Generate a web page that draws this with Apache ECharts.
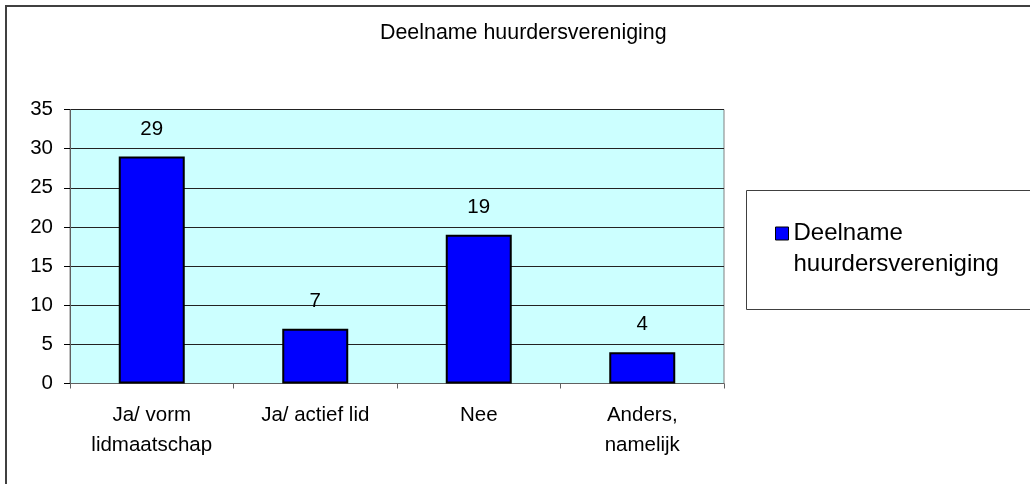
<!DOCTYPE html>
<html>
<head>
<meta charset="utf-8">
<script src="https://cdn.jsdelivr.net/npm/echarts@6/dist/echarts.min.js"></script>
<style>
  html, body { margin: 0; padding: 0; background: #fff; }
  #chart { width: 1030px; height: 484px; }
</style>
</head>
<body>
<div id="chart"></div>
<script>
// categorieen en waarden
var categories = ['Ja/ vorm\nlidmaatschap', 'Ja/ actief lid', 'Nee', 'Anders,\nnamelijk'];
var values = [29, 7, 19, 4];
var seriesName = 'Deelname\nhuurdersvereniging';
var titleText = 'Deelname huurdersvereniging';

var font = 'Liberation Sans, Arial, sans-serif';
var myChart = echarts.init(document.getElementById('chart'));

myChart.setOption({
  backgroundColor: '#fff',
  animation: false,
  title: {
    text: titleText,
    left: 380,
    top: 23,
    padding: 0,
    textStyle: { fontFamily: font, fontSize: 21.4, fontWeight: 'normal', color: '#000' }
  },
  graphic: [
    { // rand om de hele grafiek
      type: 'rect', z: -10,
      shape: { x: 6, y: 6, width: 1100, height: 600 },
      style: { fill: 'none', stroke: '#404040', lineWidth: 2 }
    },
    { // kader van de legenda
      type: 'rect', z: -5,
      shape: { x: 746.5, y: 190.5, width: 400, height: 119 },
      style: { fill: '#fff', stroke: '#404040', lineWidth: 1 }
    }
  ],
  legend: {
    left: 775,
    top: 187,
    padding: 0,
    icon: 'rect',
    itemWidth: 13,
    itemHeight: 13,
    itemGap: 10,
    itemStyle: { borderColor: '#000', borderWidth: 1 },
    // lege eerste regel zodat het blokje naast de eerste tekstregel staat
    formatter: function (name) { return ' \n' + name; },
    textStyle: {
      fontFamily: font, fontSize: 24, color: '#000', lineHeight: 31
    },
    data: [seriesName]
  },
  grid: {
    left: 70,
    top: 109.5,
    right: 306,
    bottom: 100.5,
    show: true,
    backgroundColor: '#CCFFFF',
    borderColor: '#808080',
    borderWidth: 1
  },
  xAxis: {
    type: 'category',
    data: categories,
    axisLine: { lineStyle: { color: '#606060', width: 1 } },
    axisTick: { show: true, length: 5, lineStyle: { color: '#606060' } },
    axisLabel: {
      interval: 0,
      margin: 17,
      fontFamily: font, fontSize: 20.5, color: '#000', lineHeight: 30
    }
  },
  yAxis: {
    type: 'value',
    min: 0,
    max: 35,
    interval: 5,
    axisLine: { show: true, lineStyle: { color: '#606060', width: 1 } },
    axisTick: { show: true, length: 6, lineStyle: { color: '#000' } },
    axisLabel: {
      margin: 17,
      fontFamily: font, fontSize: 20.5, color: '#000'
    },
    splitLine: { lineStyle: { color: '#222', width: 1 } }
  },
  series: [
    {
      name: seriesName,
      type: 'bar',
      data: values,
      barWidth: 66,
      itemStyle: { color: '#0000FF', borderColor: '#000', borderWidth: 2 },
      label: {
        show: true,
        position: 'top',
        distance: 17,
        fontFamily: font, fontSize: 20.5, color: '#000'
      }
    }
  ]
});
</script>
</body>
</html>
